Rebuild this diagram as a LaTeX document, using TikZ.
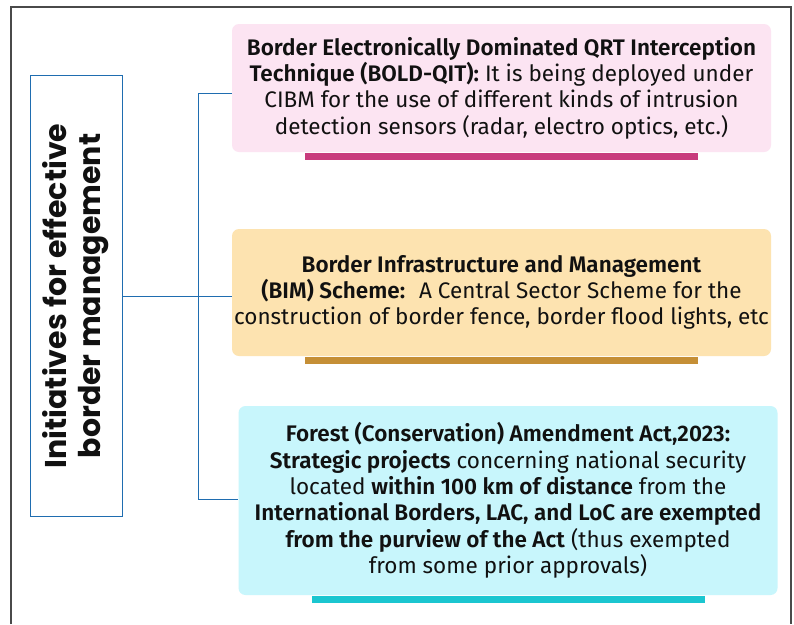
\documentclass[tikz,border=0pt]{standalone}
\usepackage{fontspec}
\setmainfont{Fira Sans}[BoldFont={Fira Sans SemiBold}]
\newfontfamily\titlefont{Poppins}[BoldFont={Poppins Bold}]
\definecolor{framec}{HTML}{4A4A4A}
\definecolor{linec}{HTML}{1F6DB0}
\definecolor{pinkf}{HTML}{FCE4F2}
\definecolor{pinkb}{HTML}{C83B7D}
\definecolor{orf}{HTML}{FDE3B0}
\definecolor{orb}{HTML}{C58F36}
\definecolor{cyf}{HTML}{C8F6FC}
\definecolor{cyb}{HTML}{1BC6D0}
\definecolor{txt}{HTML}{111111}
\tikzset{
  infobox/.style={rounded corners=7pt, minimum width=539pt, align=center, inner sep=0pt, font=\fontsize{22.5}{26.3}\selectfont, text=txt},
  conn/.style={draw=linec, line width=0.9pt},
  bar/.style={inner sep=0pt, minimum width=393pt, minimum height=7pt},
}
\begin{document}
\begin{tikzpicture}[x=1pt,y=-1pt]
\useasboundingbox[fill=white] (0,0) rectangle (794,624);
\draw[framec, line width=1.3pt] (11,624) -- (11,7) -- (791,7) -- (791,624);
% title box
\node[draw=linec, line width=0.9pt, fill=white, rotate=90, minimum width=441pt, minimum height=92pt, inner sep=0pt, align=center,
  font=\titlefont\bfseries\fontsize{30}{34}\selectfont, text=txt] (title) at (76,296) {Initiatives for effective\\border management};
% boxes
\node[infobox, fill=pinkf, minimum height=128pt] (bold) at (501.5,88) {\textbf{Border Electronically Dominated QRT Interception}\\\textbf{Technique (BOLD-QIT):} It is being deployed under\\CIBM for the use of different kinds of intrusion\\detection sensors (radar, electro optics, etc.)};
\node[bar, fill=pinkb, anchor=north] (bar1) at (501.5,153) {};
\node[infobox, fill=orf, minimum height=127pt] (bim) at (501.5,292.5) {\textbf{Border Infrastructure and Management}\\\textbf{(BIM) Scheme:}~ A Central Sector Scheme for the\\construction of border fence, border flood lights, etc};
\node[bar, fill=orb, anchor=north] (bar2) at (501.5,357) {};
\node[infobox, fill=cyf, minimum height=189pt] (fca) at (508,500.5) {\textbf{Forest (Conservation) Amendment Act,2023:}\\\textbf{Strategic projects} concerning national security\\located \textbf{within 100 km of distance} from the\\\textbf{International Borders, LAC, and LoC are exempted}\\\textbf{from the purview of the Act} (thus exempted\\from some prior approvals)};
\node[bar, fill=cyb, anchor=north] (bar3) at (508,596) {};
% connectors
\coordinate (t1) at (198,93);
\coordinate (t3) at (198,499);
\draw[conn] (title.south) -- (title.south -| bim.west);
\draw[conn] (t1 -| bold.west) -- (t1) -- (t3) -- (t3 -| fca.west);
\end{tikzpicture}
\end{document}
